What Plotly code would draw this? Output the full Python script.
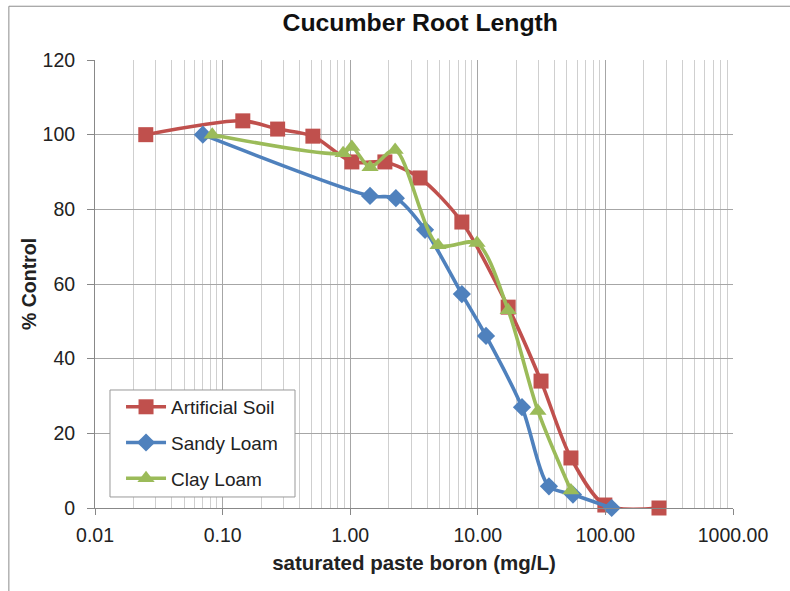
import plotly.graph_objects as go

# Artificial Soil
art_x = [0.025, 0.144, 0.27, 0.51, 1.03, 1.87, 3.52, 7.5, 17.3, 31.3, 53.7, 99, 263]
art_y = [100, 103.7, 101.5, 99.6, 92.7, 92.7, 88.4, 76.6, 53.8, 34.0, 13.4, 0.8, 0]
# Sandy Loam
sandy_x = [0.070, 1.43, 2.28, 3.86, 7.5, 11.6, 22.2, 36.1, 55.7, 112]
sandy_y = [100, 83.6, 83.0, 74.5, 57.3, 46.1, 27.0, 5.8, 3.6, 0]
# Clay Loam
clay_x = [0.083, 0.88, 1.03, 1.43, 2.25, 4.88, 9.86, 17.3, 29.6, 53.7]
clay_y = [100, 95.0, 96.7, 91.3, 95.9, 70.4, 71.0, 53.0, 26.0, 4.7]

x_tickvals = [0.01, 0.1, 1, 10, 100, 1000]
x_ticktext = ["0.01", "0.10", "1.00", "10.00", "100.00", "1000.00"]
x_minor = [k * 10 ** e for e in range(-2, 3) for k in range(2, 10)]

series = [
    ("Artificial Soil", art_x, art_y, "#C0504D", "square", 15),
    ("Sandy Loam", sandy_x, sandy_y, "#4F81BD", "diamond", 14),
    ("Clay Loam", clay_x, clay_y, "#9BBB59", "triangle-up", 15),
]

fig = go.Figure()
for i, (name, xs, ys, col, sym, sz) in enumerate(series):
    fig.add_trace(go.Scatter(
        x=xs, y=ys, name=name, mode="lines+markers",
        line=dict(color=col, width=3.6, shape="spline", smoothing=0.8),
        marker=dict(color=col, symbol=sym, size=sz),
        cliponaxis=False, legendgroup=f"g{i}",
    ))

font = "Liberation Sans, Arial, sans-serif"
fig.update_layout(
    width=790, height=591,
    margin=dict(l=95, r=57, t=60, b=83),
    paper_bgcolor="white", plot_bgcolor="white",
    font=dict(family=font, size=19, color="#222"),
    title=dict(text="<b>Cucumber Root Length</b>", x=0.532, xanchor="center",
               y=0.962, yanchor="middle", font=dict(size=24.8, color="#111")),
    xaxis=dict(
        type="log", range=[-2, 3],
        tickvals=x_tickvals, ticktext=x_ticktext,
        showgrid=True, gridcolor="#A6A6A6", gridwidth=1,
        showline=True, linecolor="#888", linewidth=1,
        ticks="outside", ticklen=6, tickcolor="#888",
        tickfont=dict(size=19.5), ticklabelstandoff=4,
        minor=dict(tickvals=x_minor, showgrid=True, gridcolor="#CFCFCF", gridwidth=1),
        title=dict(text="<b>saturated paste boron (mg/L)</b>", font=dict(size=20.5), standoff=10),
        zeroline=False,
    ),
    yaxis=dict(
        range=[0, 120], dtick=20,
        showgrid=True, gridcolor="#A6A6A6", gridwidth=1,
        showline=True, linecolor="#888", linewidth=1,
        ticks="outside", ticklen=7, tickcolor="#888",
        tickfont=dict(size=19.5), ticklabelstandoff=8,
        title=dict(text="<b>% Control</b>", font=dict(size=19.5), standoff=0),
        zeroline=False,
    ),
    legend=dict(
        x=0.0408, y=0.268, xanchor="left", yanchor="top",
        borderwidth=0, bgcolor="rgba(0,0,0,0)", itemwidth=40,
        font=dict(size=19, color="#222"), tracegroupgap=8,
    ),
    showlegend=True,
    shapes=[
        dict(type="rect", xref="paper", yref="paper",
             x0=-0.135, x1=1.2, y0=-0.4, y1=1.12,
             line=dict(color="#8C8C8C", width=1), layer="below"),
        dict(type="rect", xref="paper", yref="paper",
             x0=0.0235, x1=0.3135, y0=0.0246, y1=0.2634,
             line=dict(color="#999", width=1), fillcolor="white", layer="above"),
    ],
)

fig.write_html("out.html")
